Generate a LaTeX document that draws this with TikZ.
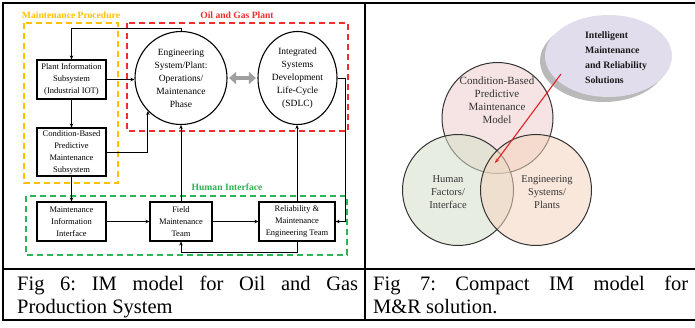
\documentclass[tikz,border=0pt]{standalone}
\usepackage{fontspec}
\setmainfont{Liberation Serif}
\usetikzlibrary{arrows.meta,shapes.geometric}
\definecolor{mpyellow}{RGB}{255,192,0}
\definecolor{ogred}{RGB}{240,45,45}
\definecolor{higreen}{RGB}{45,180,85}
\definecolor{cbmpink}{RGB}{238,205,205}
\definecolor{hfgreen}{RGB}{212,224,200}
\definecolor{espeach}{RGB}{245,212,190}
\definecolor{imlilac}{RGB}{226,221,236}
\definecolor{imred}{RGB}{225,35,40}
\begin{document}
\begin{tikzpicture}[x=1pt,y=-1pt,box/.style={draw=black,line width=1.1pt,inner sep=0pt,align=center,font=\fontsize{8.5}{12}\selectfont},phase/.style={ellipse,draw=black,line width=1.1pt,inner sep=0pt,align=center,font=\fontsize{9.5}{13}\selectfont},link/.style={line width=0.9pt,-{Stealth[length=4pt,width=3.5pt]}},zone/.style={line width=1.8pt,dash pattern=on 6pt off 4pt},zonelbl/.style={font=\bfseries\fontsize{9.6}{11}\selectfont},twoway/.style={line width=4.5pt,gray!75,{Triangle[length=7pt,width=12pt]}-{Triangle[length=7pt,width=12pt]},shorten <=1.5pt,shorten >=1.5pt},venn/.style={circle,draw=black!80,line width=1pt,minimum size=111pt,inner sep=0pt,fill opacity=0.55},vennlbl/.style={align=center,text=black!80,font=\fontsize{10.5}{13}\selectfont},imarrow/.style={imred,line width=1.1pt,-{Stealth[length=4.5pt,width=3.5pt]}},caption/.style={anchor=north west,inner sep=0pt,align=justify,font=\fontsize{20.5}{23}\selectfont\frenchspacing},rule/.style={line width=2pt}]
\def\wsub{69}
\def\hsub{39}

\useasboundingbox (0,0) rectangle (695,327);

\draw[rule] (3,3) -- (695,3);
\draw[rule] (3,269) -- (695,269);
\draw[rule] (3,320) -- (695,320);
\draw[rule] (3,2) -- (3,321);
\draw[rule] (365,2) -- (365,321);

\draw[zone,mpyellow] (24,23) rectangle (118,183);
\draw[zone,ogred] (127,23) rectangle (348,131);
\draw[zone,higreen] (26,196) rectangle (347,255);
\node[zonelbl,mpyellow] (mplbl) at (71,15) {Maintenance Procedure};
\node[zonelbl,ogred] (oglbl) at (237,15) {Oil and Gas Plant};
\node[zonelbl,higreen] (hilbl) at (227,187) {Human Interface};

\node[box,minimum width=\wsub,minimum height=\hsub] (pis) at (71.5,79.5) {Plant Information\\Subsystem\\(Industrial IOT)};
\node[box,minimum width=\wsub,minimum height=48] (cbp) at (71.5,152) {Condition-Based\\Predictive\\Maintenance\\Subsystem};
\node[box,minimum width=\wsub,minimum height=\hsub] (mii) at (71.5,221.5) {Maintenance\\Information\\Interface};
\node[box,minimum width=62,minimum height=\hsub] (fmt) at (181,221.5) {Field\\Maintenance\\Team};
\node[box,minimum width=76,minimum height=\hsub] (rme) at (297,221.5) {Reliability \&\\Maintenance\\Engineering Team};

\node[phase,minimum width=92,minimum height=93] (eng) at (181,78) {Engineering\\System/Plant:\\Operations/\\Maintenance\\Phase};
\node[phase,minimum width=79,minimum height=93] (sdlc) at (297.5,78) {Integrated\\Systems\\Development\\Life-Cycle\\(SDLC)};
\draw[twoway] (eng.east) -- (sdlc.west);

\draw[link] (eng.north) -- ++(0,-3) -| (pis.north);
\draw[link] (pis.east) -- (pis.east -| eng.west);
\draw[link] (pis.south) -- (cbp.north);
\draw[link] (cbp.east) -| (eng.-135);
\draw[link] (cbp.south) -- (mii.north);
\draw[link] (mii.east) -- (fmt.west);
\draw[link] (fmt.east) -- (rme.west);
\draw[link] (fmt.north) -- (eng.south);
\draw[link] (rme.north) -- (rme.north |- sdlc.south);
\draw[link] (sdlc.east) -- ++(8,0) |- (rme.east);
\draw[link] (rme.south) -- ++(0,11) -| (fmt.south);

\fill[gray!55] (603.5,61) ellipse [x radius=63.5, y radius=41];
\node[ellipse,fill=imlilac,minimum width=127,minimum height=82,inner sep=0pt] (imrs) at (608.5,56) {};
\node[align=left,text=black!90,font=\bfseries\fontsize{9.8}{15}\selectfont] (imlbl) at (616,58) {Intelligent\\Maintenance\\and Reliability\\Solutions};

\node[venn,fill=cbmpink] (cbm) at (497.5,118) {};
\node[venn,fill=hfgreen] (hf) at (458,190) {};
\node[venn,fill=espeach] (es) at (536,190) {};
\node[vennlbl,font=\fontsize{11}{13}\selectfont] (cbmlbl) at (497,100.5) {Condition-Based\\Predictive\\Maintenance\\Model};
\node[vennlbl] (hflbl) at (448,192) {Human\\Factors/\\Interface};
\node[vennlbl] (eslbl) at (547,192) {Engineering\\Systems/\\Plants};

\coordinate (imfrom) at (561,74);
\coordinate (imto) at (495,163);
\draw[imarrow] (imfrom) -- (imto);

\node[caption,text width=341] (cap6) at (17,276) {Fig 6: IM model for Oil and Gas\linebreak Production System};
\node[caption,text width=315] (cap7) at (373,276) {Fig 7: Compact IM model for\linebreak M\&R solution.};
\end{tikzpicture}
\end{document}
